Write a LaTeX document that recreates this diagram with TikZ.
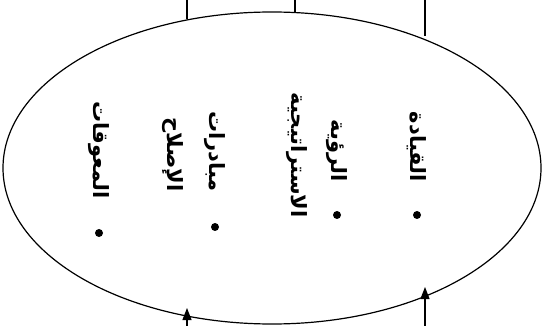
\documentclass[tikz,border=0pt]{standalone}
\usepackage{fontspec}
\newfontfamily\arabicfont[Script=Arabic]{DejaVu Sans}
\TeXXeTstate=1
\usetikzlibrary{arrows.meta}

\begin{document}
\begin{tikzpicture}[x=1pt,y=-1pt,
    item/.style={rotate=-90,anchor=east,inner sep=0pt,
      font=\arabicfont\bfseries\fontsize{21}{24}\selectfont},
    dot/.style={circle,fill,inner sep=0pt,minimum size=8pt},
    link/.style={line width=1.2pt},
    uplink/.style={line width=1.2pt,-{Triangle[length=12pt,width=9pt]}}]
  \useasboundingbox (0,0) rectangle (544,326);
  % outer frame
  \draw[line width=1.2pt] (272,168) ellipse [x radius=269pt, y radius=156pt];
  % lines coming in at the top
  \coordinate (topA) at (187,0);
  \coordinate (topB) at (295,0);
  \coordinate (topC) at (425,0);
  \coordinate (rimA) at (187,19);
  \coordinate (rimB) at (295,12);
  \coordinate (rimC) at (425,36);
  \draw[link] (topA) -- (rimA);
  \draw[link] (topB) -- (rimB);
  \draw[link] (topC) -- (rimC);
  % arrows coming in at the bottom
  \coordinate (lowA) at (187,326);
  \coordinate (lowC) at (425,326);
  \coordinate (tipA) at (187,308);
  \coordinate (tipC) at (425,287);
  \draw[uplink] (lowA) -- (tipA);
  \draw[uplink] (lowC) -- (tipC);
  % the four items
  \node[dot] (dotLead) at (417,215) {};
  \node[item] (lead) at (417,182) {\beginR القيادة\endR};
  \node[dot] (dotVision) at (337,215) {};
  \node[item] (vision) at (337,182) {\beginR الرؤية\endR};
  \node[item] (strategy) at (297,218) {\beginR الاستراتيجية\endR};
  \node[dot] (dotReform) at (215,227) {};
  \node[item] (reformA) at (215,192) {\beginR مبادرات\endR};
  \node[item] (reformB) at (173,192) {\beginR الإصلاح\endR};
  \node[dot] (dotHurdle) at (99,233) {};
  \node[item] (hurdle) at (99,199) {\beginR المعوقات\endR};
\end{tikzpicture}
\end{document}
